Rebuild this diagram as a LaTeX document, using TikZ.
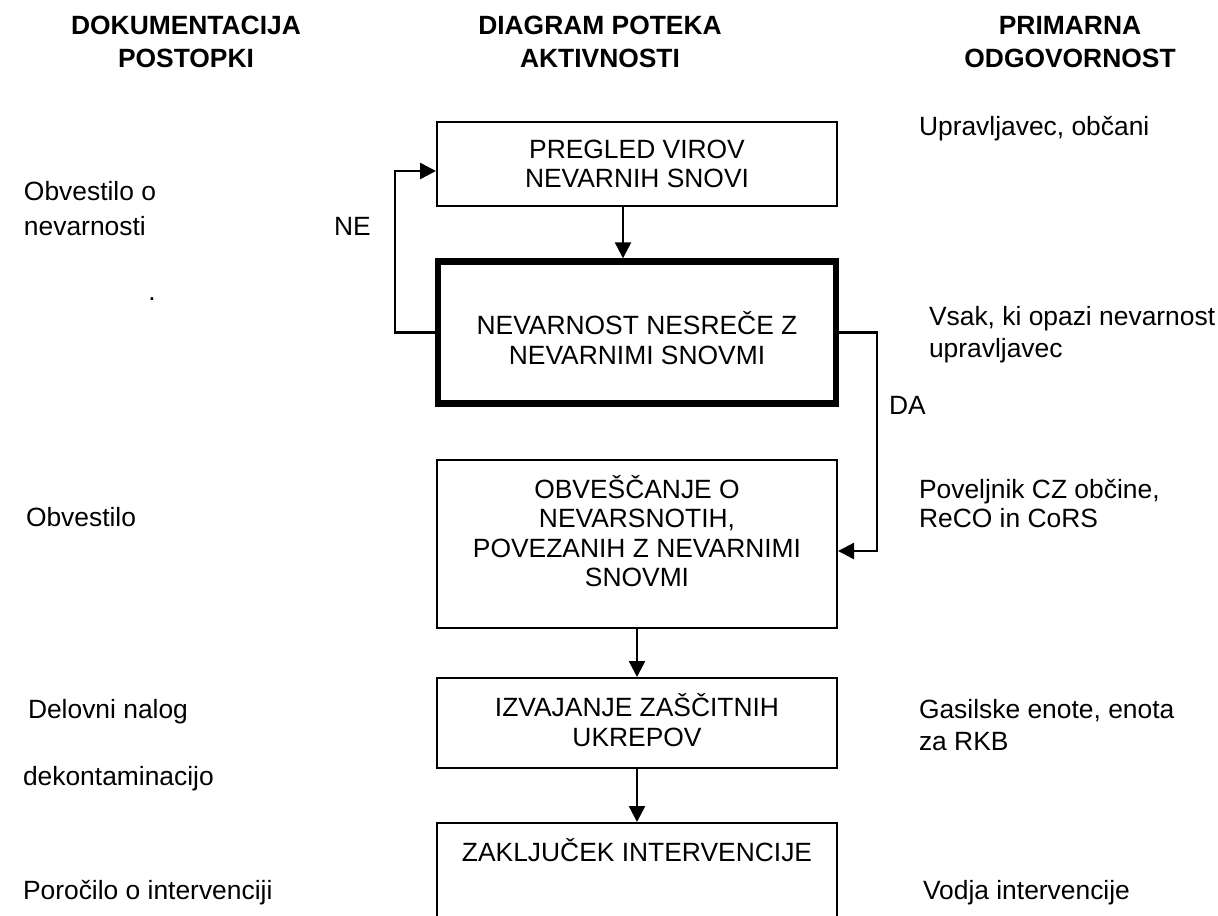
\documentclass[tikz,border=0pt]{standalone}
\usepackage{fontspec}
\setmainfont{Liberation Sans}
\usetikzlibrary{arrows.meta}

\begin{document}
\begin{tikzpicture}[x=0.5pt,y=-0.5pt,line width=1pt]
\tikzstyle{box}=[draw,minimum width=200pt,inner sep=0pt];
\tikzstyle{txt}=[font=\fontsize{13.2}{14.65}\selectfont,align=center,inner sep=0pt];
\tikzstyle{note}=[font=\fontsize{13.2}{16}\selectfont,align=left,inner sep=0pt];
\tikzstyle{head}=[font=\fontsize{13.2}{16.5}\selectfont\bfseries,align=center,inner sep=0pt];
\tikzstyle{dir}=[line width=1.2pt,-{Triangle[length=8pt,width=8pt]}];

\useasboundingbox (0,0) rectangle (1218,915);
\clip (0,0) rectangle (1218,915);

% column heads
\node [head] (h1) at (186,42) {DOKUMENTACIJA\\POSTOPKI};
\node [head] (h2) at (600,42) {DIAGRAM POTEKA\\AKTIVNOSTI};
\node [head] (h3) at (1070,42) {PRIMARNA\\ODGOVORNOST};

% flow boxes
\node [box,minimum height=42pt] (b1) at (637,164) {};
\node [box,minimum width=199pt,minimum height=71pt,line width=3.2pt] (b2) at (637,332.5) {};
\node [box,minimum height=84pt] (b3) at (637,544) {};
\node [box,minimum height=45pt] (b4) at (637,723) {};
\node [box,minimum height=100pt] (b5) at (637,923) {};

\node [txt] (t1) at (637,164) {PREGLED VIROV\\NEVARNIH SNOVI};
\node [txt] (t2) at (637,338) {NEVARNOST NESREČE Z\\NEVARNIMI SNOVMI};
\node [txt] (t3) at (637,531) {OBVEŠČANJE O\\NEVARSNOTIH,\\POVEZANIH Z NEVARNIMI\\SNOVMI};
\node [txt] (t4) at (637,720) {IZVAJANJE ZAŠČITNIH\\UKREPOV};
\node [txt,anchor=base] (t5) at (637,861) {ZAKLJUČEK INTERVENCIJE};

% connectors
\draw [dir] ([xshift=-7pt]b1.south) -- ([xshift=-7pt]b2.north);
\draw [dir] (b3.south) -- (b4.north);
\draw [dir] (b4.south) -- (b5.north);
\draw [dir] (b2.west) -- ++(-40,0) |- ([yshift=-3.5pt]b1.west);
\draw [dir] (b2.east) -- ++(38,0) |- ([yshift=-3.5pt]b3.east);
\node [note,anchor=base west] (ne) at (333,235) {NE};
\node [note,anchor=base west] (da) at (888,414) {DA};

% documents
\node [note,anchor=west,font=\fontsize{13.2}{17.5}\selectfont] (d1) at (23,209) {Obvestilo o\\nevarnosti};
\node [note,anchor=base] (d0) at (152,300) {.};
\node [note,anchor=base west] (d2) at (25,526) {Obvestilo};
\node [note,anchor=base west] (d3) at (27,718) {Delovni nalog};
\node [note,anchor=base west] (d4) at (22,785) {dekontaminacijo};
\node [note,anchor=base west] (d5) at (22,899) {Poročilo o intervenciji};

% responsibility
\node [note,anchor=base west] (r1) at (918,135) {Upravljavec, občani};
\node [note,anchor=west] (r2) at (928,335) {Vsak, ki opazi nevarnost\\upravljavec};
\node [note,anchor=west,font=\fontsize{13.2}{14.5}\selectfont] (r3) at (918,504) {Poveljnik CZ občine,\\ReCO in CoRS};
\node [note,anchor=west] (r4) at (918,725) {Gasilske enote, enota\\za RKB};
\node [note,anchor=base west] (r5) at (922,899) {Vodja intervencije};
\end{tikzpicture}
\end{document}
